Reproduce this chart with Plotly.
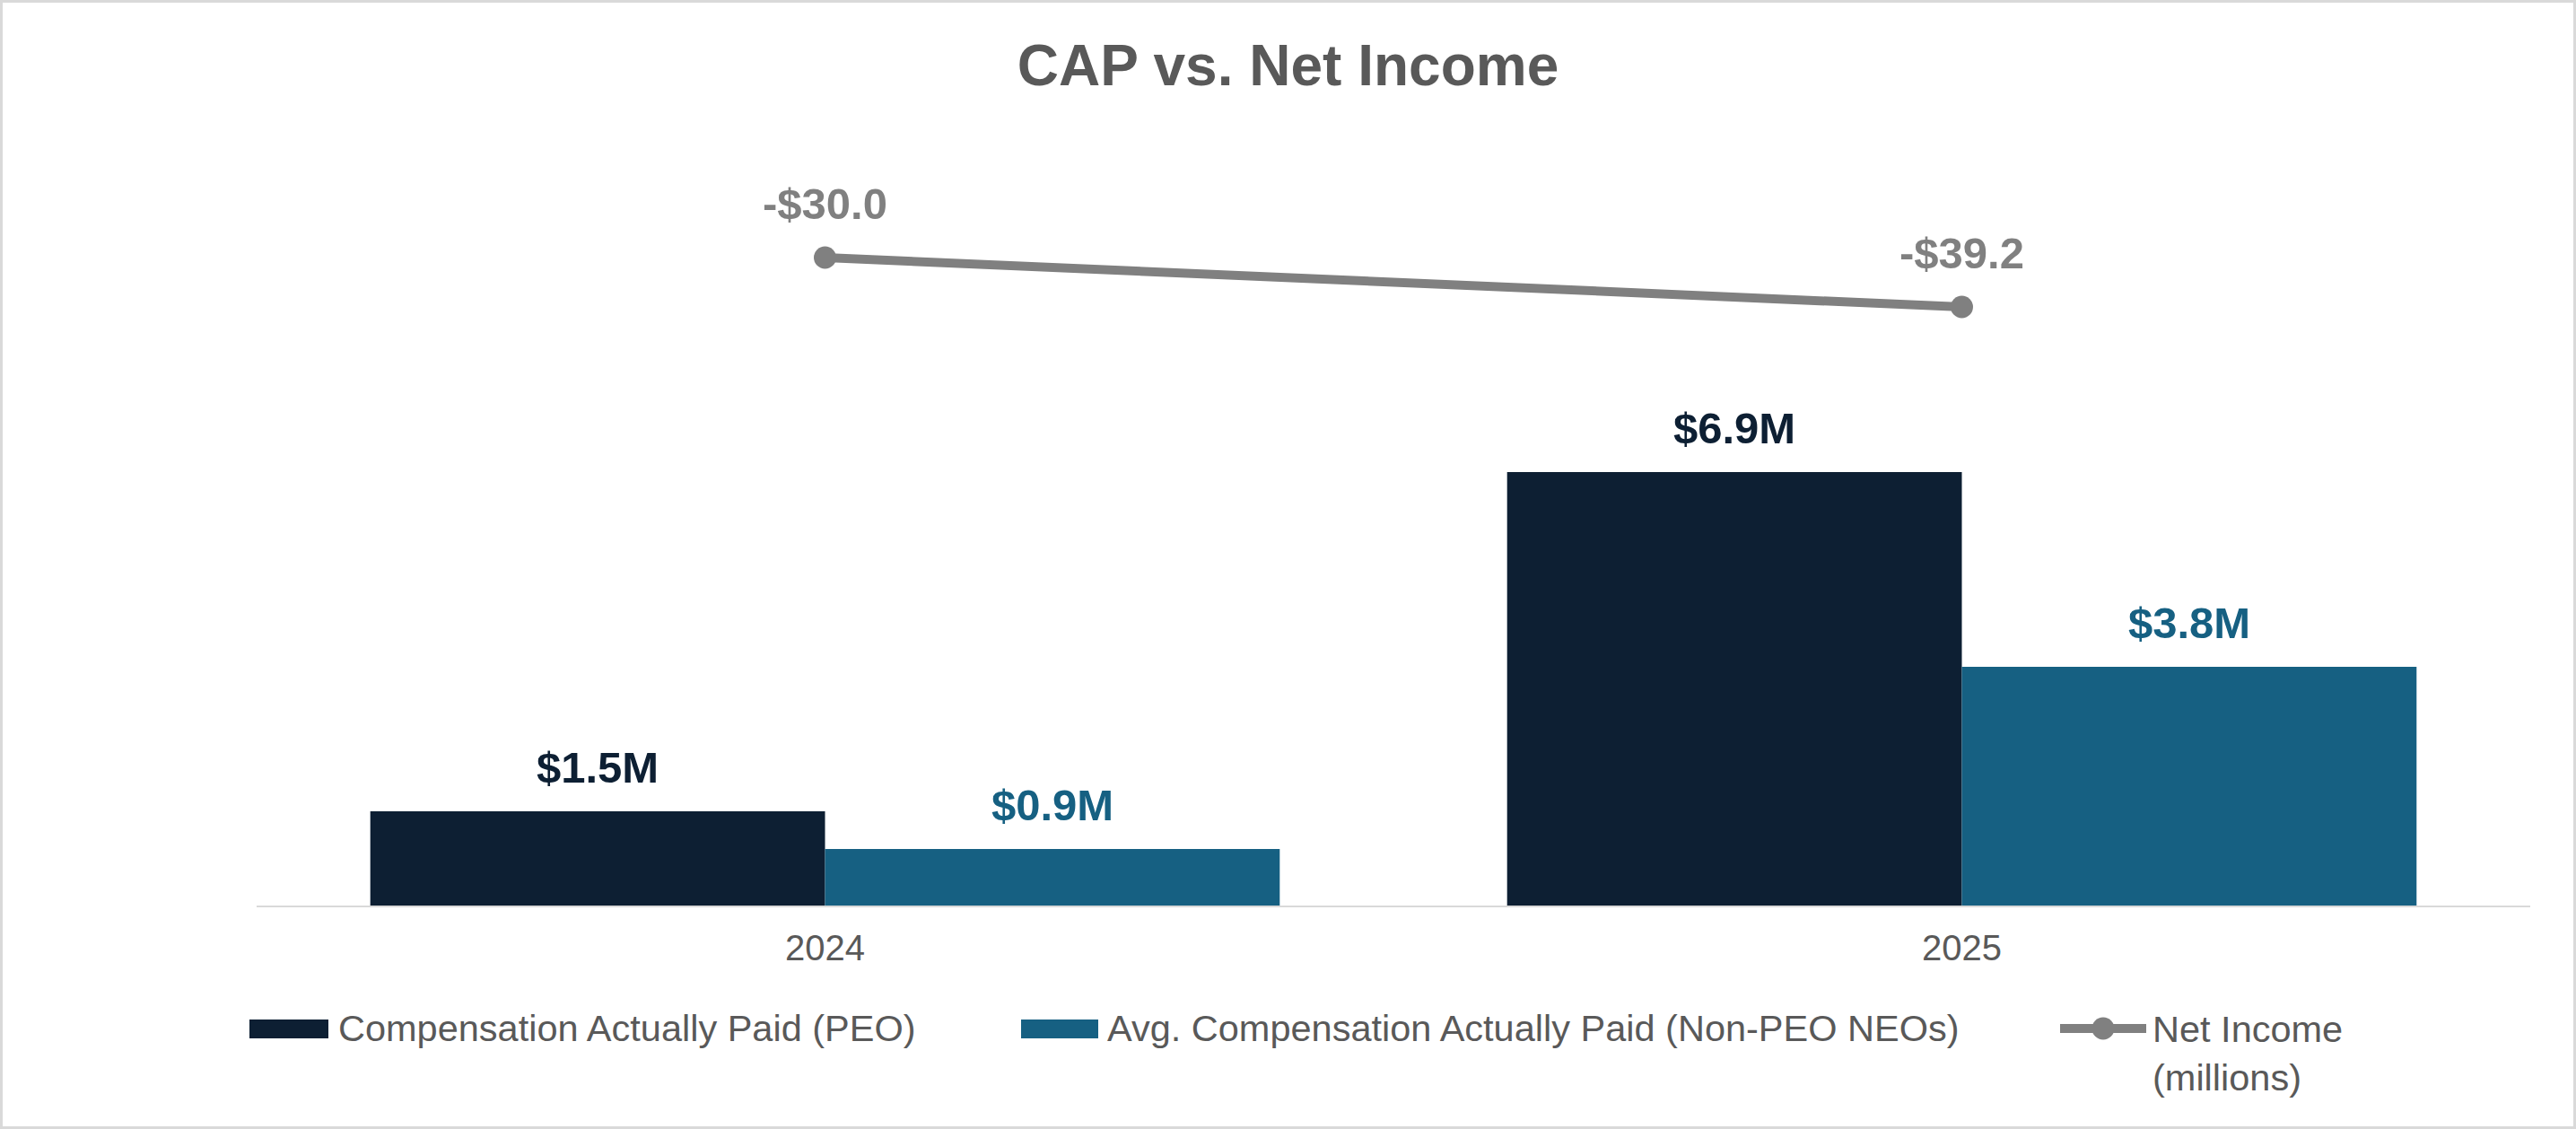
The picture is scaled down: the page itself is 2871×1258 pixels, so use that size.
import plotly.graph_objects as go

# ---------------- data ----------------
years = [2024, 2025]
year_labels = ["2024", "2025"]
cap_peo = [1.5, 6.9]          # $M
cap_non_peo = [0.9, 3.8]      # $M
net_income = [-30.0, -39.2]   # $ millions
series_names = [
    "Compensation Actually Paid (PEO)",
    "Avg. Compensation Actually Paid (Non-PEO NEOs)",
    "Net Income<br>(millions)",
]
title_text = "CAP vs. Net Income"

# ---------------- styling / geometry ----------------
W, H = 2871, 1258
L, R, T, B = 286, 51, 180, 249
PW = W - L - R
PH = H - T - B


def px(xp):
    return (xp - L) / PW


def py(yp):
    return (H - B - yp) / PH


C_PEO = "#0D1F33"
C_NON = "#166082"
C_LINE = "#808080"
C_TEXT = "#595959"
C_AXIS = "#D9D9D9"
FONT = "Liberation Sans, Arial, sans-serif"
BARGAP = 0.2
bar_w = (1 - BARGAP) / 2
offsets = [-bar_w / 2, bar_w / 2]

fig = go.Figure()
fig.add_trace(go.Bar(x=years, y=cap_peo, name=series_names[0], marker_color=C_PEO,
                     marker_line_width=0, showlegend=False))
fig.add_trace(go.Bar(x=years, y=cap_non_peo, name=series_names[1], marker_color=C_NON,
                     marker_line_width=0, showlegend=False))
fig.add_trace(go.Scatter(x=years, y=net_income, name=series_names[2], yaxis="y2",
                         mode="lines+markers", line=dict(color=C_LINE, width=10),
                         marker=dict(size=25, color=C_LINE), showlegend=False))

annotations = []
for vals, off, col in [(cap_peo, offsets[0], C_PEO), (cap_non_peo, offsets[1], C_NON)]:
    for yr, v in zip(years, vals):
        annotations.append(dict(x=yr + off, y=v, xref="x", yref="y", text=f"<b>${v:.1f}M</b>",
                                showarrow=False, yanchor="bottom", yshift=20,
                                font=dict(family=FONT, size=49, color=col)))
for yr, v in zip(years, net_income):
    sign = "-" if v < 0 else ""
    annotations.append(dict(x=yr, y=v, xref="x", yref="y2", text=f"<b>{sign}${abs(v):.1f}</b>",
                            showarrow=False, yanchor="bottom", yshift=31,
                            font=dict(family=FONT, size=49, color=C_LINE)))

# manual legend
leg_y = 1145
leg_font = dict(family=FONT, size=41.5, color=C_TEXT)
annotations += [
    dict(x=px(375), y=py(leg_y), xref="paper", yref="paper", text=series_names[0], showarrow=False,
         xanchor="left", yanchor="middle", font=leg_font),
    dict(x=px(1232), y=py(leg_y), xref="paper", yref="paper", text=series_names[1], showarrow=False,
         xanchor="left", yanchor="middle", font=leg_font),
    dict(x=px(2397), y=py(1121), xref="paper", yref="paper", text=series_names[2], showarrow=False,
         xanchor="left", yanchor="top", align="left", font=leg_font),
]

shapes = [
    # outer border
    dict(type="rect", xref="paper", yref="paper", x0=px(1.5), x1=px(W - 1.5), y0=py(1.5), y1=py(H - 1.5),
         line=dict(color=C_AXIS, width=3), fillcolor="rgba(0,0,0,0)", layer="above"),
    # legend swatches
    dict(type="rect", xref="paper", yref="paper", x0=px(278), x1=px(366), y0=py(1157), y1=py(1136),
         line=dict(width=0), fillcolor=C_PEO),
    dict(type="rect", xref="paper", yref="paper", x0=px(1138), x1=px(1224), y0=py(1157), y1=py(1136),
         line=dict(width=0), fillcolor=C_NON),
    dict(type="line", xref="paper", yref="paper", x0=px(2296), x1=px(2392), y0=py(1146), y1=py(1146),
         line=dict(color=C_LINE, width=10)),
    dict(type="circle", xref="paper", yref="paper", x0=px(2344 - 12.5), x1=px(2344 + 12.5),
         y0=py(1146 + 12.5), y1=py(1146 - 12.5), line=dict(width=0), fillcolor=C_LINE),
]

fig.update_layout(
    width=W, height=H,
    margin=dict(l=L, r=R, t=T, b=B, pad=0),
    paper_bgcolor="white", plot_bgcolor="white",
    barmode="group", bargap=BARGAP, bargroupgap=0,
    title=dict(text=f"<b>{title_text}</b>", x=0.5, xanchor="center", xref="container",
               y=1 - 73 / H, yanchor="middle", yref="container",
               font=dict(family=FONT, size=64, color=C_TEXT)),
    xaxis=dict(type="linear", range=[years[0] - 0.5, years[-1] + 0.5], tickvals=years,
               ticktext=year_labels, showline=True, linecolor=C_AXIS, linewidth=2,
               showgrid=False, zeroline=False, ticks="", ticklabelstandoff=11,
               tickfont=dict(family=FONT, size=40, color=C_TEXT)),
    yaxis=dict(range=[0, 829 / 70.0], visible=False, showgrid=False, zeroline=False),
    yaxis2=dict(range=[-150.78, -12.10], overlaying="y", visible=False, showgrid=False,
                zeroline=False),
    showlegend=False,
    annotations=annotations,
    shapes=shapes,
    font=dict(family=FONT, color=C_TEXT),
)

fig.write_html("out.html", config={"displayModeBar": False},
               post_script="document.body.style.margin='0';document.body.style.overflow='hidden';")
